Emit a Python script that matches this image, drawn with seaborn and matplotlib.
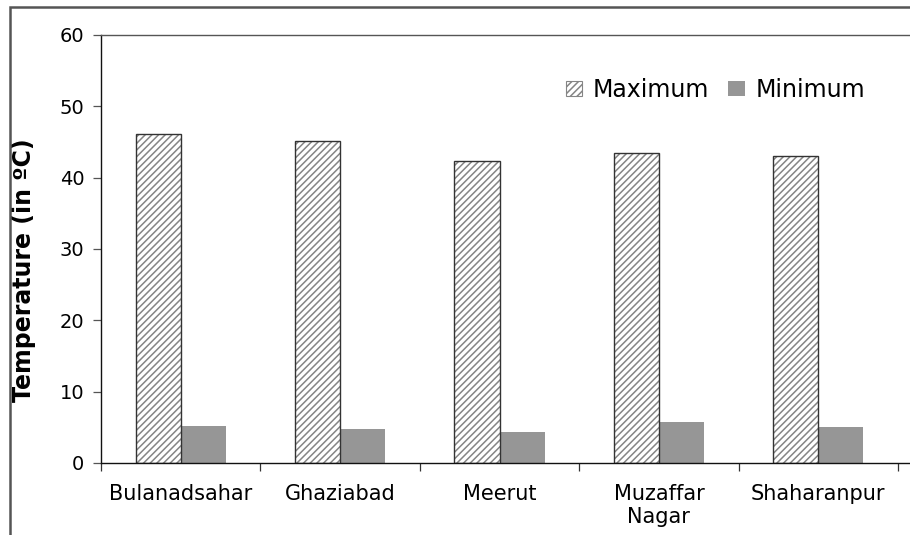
import matplotlib
matplotlib.use("Agg")
import matplotlib.pyplot as plt
from matplotlib.patches import Patch, Rectangle
import seaborn as sns
import pandas as pd

cities = ["Bulanadsahar", "Ghaziabad", "Meerut", "Muzaffar\nNagar", "Shaharanpur"]
maximum = [46.1, 45.1, 42.3, 43.4, 43.1]
minimum = [5.2, 4.7, 4.4, 5.8, 5.05]
series = ["Maximum", "Minimum"]
yticks = [0, 10, 20, 30, 40, 50, 60]

df = pd.DataFrame({
    "City": cities * 2,
    "Type": [series[0]] * len(cities) + [series[1]] * len(cities),
    "Temp": maximum + minimum,
})

sns.set_theme(style="white")
plt.rcParams["font.family"] = ["DejaVu Sans"]
plt.rcParams["text.color"] = "black"
plt.rcParams["xtick.color"] = "black"
plt.rcParams["ytick.color"] = "black"
plt.rcParams["axes.labelcolor"] = "black"
plt.rcParams["hatch.linewidth"] = 1.1

HATCH_GRAY = "#858585"
EDGE = "#333333"

fig = plt.figure(figsize=(9.1, 5.35), dpi=100)
ax = fig.add_axes([101 / 910, 1 - 463 / 535, (898 - 101) / 910, (463 - 35) / 535])

sns.barplot(data=df, x="City", y="Temp", hue="Type", order=cities,
            hue_order=series, palette=["white", "#969696"], width=0.565,
            saturation=1, ax=ax, legend=False)

max_bars = ax.containers[0]
min_bars = ax.containers[1]
for b in max_bars:
    b.set_edgecolor(HATCH_GRAY)
    b.set_hatch("/////")
    b.set_linewidth(0)
    outline = Rectangle((b.get_x(), b.get_y()), b.get_width(), b.get_height(),
                        fill=False, edgecolor=EDGE, linewidth=1.0, zorder=b.get_zorder() + 0.1)
    ax.add_patch(outline)
for b in min_bars:
    b.set_edgecolor("none")
    b.set_linewidth(0)

ax.set_ylim(0, 60)
ax.set_xlim(-0.5, len(cities) - 0.5)
ax.set_yticks(yticks)
ax.set_yticklabels([str(t) for t in yticks], fontsize=14)
ax.set_xticks(range(len(cities)))
ax.set_xticklabels(cities, fontsize=15, linespacing=1.2)
ax.tick_params(axis="x", which="major", length=0, pad=15)
ax.set_xticks([i + 0.5 for i in range(-1, len(cities))], minor=True)
ax.tick_params(axis="x", which="minor", length=6, width=0.9, color=EDGE, direction="out", bottom=True)
ax.tick_params(axis="y", which="major", length=6, width=0.9, color="#555555", direction="out", left=True, pad=6)

ax.set_xlabel("")
ax.set_ylabel("Temperature (in ºC)", fontsize=17, fontweight="bold")
ax.yaxis.set_label_coords(-0.082, 0.45)

ax.spines["left"].set_visible(True)
ax.spines["left"].set_color("#111111")
ax.spines["left"].set_linewidth(1.0)
for s in ["top", "bottom", "right"]:
    ax.spines[s].set_visible(False)

ext = (910 - 101) / 797
ax.plot([0, ext], [0, 0], transform=ax.transAxes, color="#111111", lw=1.0, clip_on=False, zorder=5)
ax.plot([0, ext], [1, 1], transform=ax.transAxes, color="#555555", lw=1.0, clip_on=False, zorder=5)

handles = [
    Patch(facecolor="white", edgecolor=HATCH_GRAY, hatch="/////", linewidth=0.8, label=series[0]),
    Patch(facecolor="#969696", edgecolor="none", label=series[1]),
]
ax.legend(handles=handles, loc="center right", bbox_to_anchor=(0.9586, 0.8715), ncol=2,
          frameon=False, fontsize=17, handlelength=0.7, handleheight=0.6,
          handletextpad=0.45, columnspacing=0.8, borderpad=0, borderaxespad=0)

border = Rectangle((10 / 910, -0.5), 2.0, 0.5 + (1 - 7 / 535), transform=fig.transFigure,
                   fill=False, edgecolor="#555555", linewidth=1.8, clip_on=False)
fig.add_artist(border)

fig.savefig("out.png", dpi=100)
